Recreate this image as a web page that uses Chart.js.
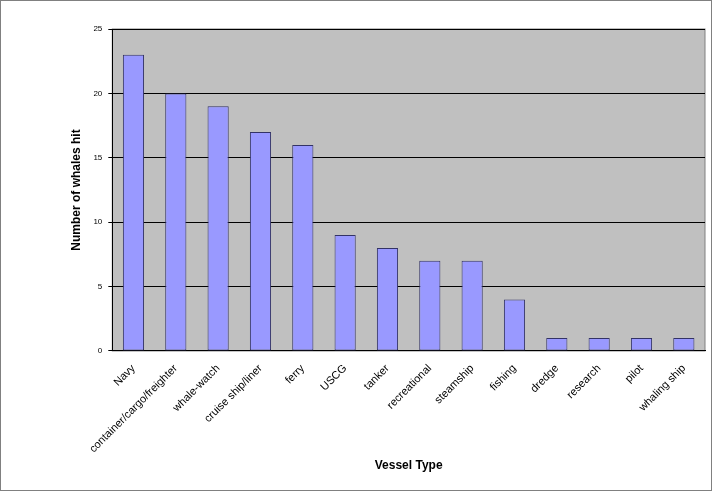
<!DOCTYPE html>
<html>
<head>
<meta charset="utf-8">
<script src="https://cdn.jsdelivr.net/npm/chart.js@4"></script>
<style>
  html, body { margin: 0; padding: 0; background: #fff; }
  #wrap { width: 710px; height: 489px; border: 1px solid #808080; position: relative; }
</style>
</head>
<body>
<div id="wrap"><canvas id="myChart"></canvas></div>
<script>
const categories = ['Navy', 'container/cargo/freighter', 'whale-watch', 'cruise ship/liner', 'ferry', 'USCG',
    'tanker', 'recreational', 'steamship', 'fishing', 'dredge', 'research', 'pilot', 'whaling ship'];
const whalesHit = [23, 20, 19, 17, 16, 9, 8, 7, 7, 4, 1, 1, 1, 1];
const yTicks = [0, 5, 10, 15, 20, 25];

const plotBackground = {
    id: 'plotBackground',
    beforeDraw(chart) {
        const { ctx, chartArea: a } = chart;
        ctx.save();
        ctx.fillStyle = '#c0c0c0';
        ctx.fillRect(a.left, a.top, a.right - a.left, a.bottom - a.top);
        ctx.strokeStyle = '#808080';
        ctx.strokeRect(a.left, a.top, a.right - a.left, a.bottom - a.top);
        ctx.restore();
    }
};

new Chart(document.getElementById('myChart'), {
    type: 'bar',
    data: {
        labels: categories,
        datasets: [{
            data: whalesHit,
            backgroundColor: '#9999ff',
            borderColor: '#333366',
            borderWidth: 1,
            borderSkipped: false,
            categoryPercentage: 0.5,
            barPercentage: 1
        }]
    },
    options: {
        responsive: true,
        maintainAspectRatio: false,
        animation: false,
        layout: { padding: { top: 28, right: 6, left: 64, bottom: 13 } },
        plugins: { legend: { display: false }, tooltip: { enabled: false } },
        scales: {
            y: {
                min: 0, max: 25,
                afterBuildTicks(axis) { axis.ticks = yTicks.map(v => ({ value: v })); },
                ticks: { font: { size: 8, family: 'Arial' }, color: '#000', padding: 6 },
                grid: { color: '#000', drawTicks: true, tickLength: 4 },
                border: { color: '#000' },
                title: { display: true, text: 'Number of whales hit', color: '#000',
                    font: { size: 12, weight: 'bold', family: 'Arial' } }
            },
            x: {
                ticks: { font: { size: 11, family: 'Arial' }, color: '#000', maxRotation: 45, minRotation: 45, autoSkip: false },
                grid: { display: false, offset: true },
                border: { color: '#000' },
                title: { display: true, text: 'Vessel Type', color: '#000', padding: { top: 0, bottom: 4 },
                    font: { size: 12, weight: 'bold', family: 'Arial' } }
            }
        }
    },
    plugins: [plotBackground]
});
</script>
</body>
</html>
